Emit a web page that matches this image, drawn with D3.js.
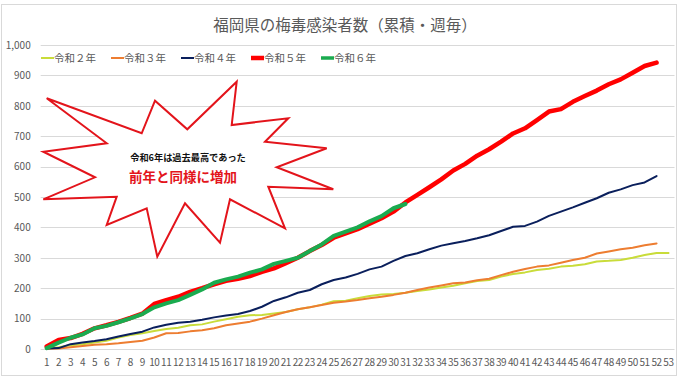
<!DOCTYPE html>
<html><head><meta charset="utf-8">
<script src="https://cdn.jsdelivr.net/npm/d3@7"></script>
<style>
html,body{margin:0;padding:0;background:#fff;}
text{font-family:"Noto Sans CJK JP","Noto Sans",sans-serif;}
</style>
</head><body>
<svg id="chart" width="680" height="382"></svg>
<script>
const title = "福岡県の梅毒感染者数（累積・週毎）";
const weeks = ["1","2","3","4","5","6","7","8","9","10","11","12","13","14","15","16","17","18","19","20","21","22","23","24","25","26","27","28","29","30","31","32","33","34","35","36","37","38","39","40","41","42","43","44","45","46","47","48","49","50","51","52","53"];
const yTicks = [0,100,200,300,400,500,600,700,800,900,1000];
const seriesNames = ["令和２年","令和３年","令和４年","令和５年","令和６年"];
const r2 = [1,6,12,16,21,27,38,46,52,59,66,70,78,81,90,98,106,111,112,117,122,131,137,146,157,159,167,174,179,181,185,191,196,202,208,216,224,227,238,247,252,260,264,271,274,279,288,290,293,300,309,316,316];
const r3 = [1,2,6,10,14,16,19,23,27,38,52,53,58,62,68,78,84,90,100,111,122,131,137,145,152,156,161,167,172,178,185,194,202,209,216,219,226,231,243,254,263,271,275,284,293,300,314,321,328,333,341,347];
const r4 = [2,3,16,21,26,32,41,49,57,71,80,86,90,96,104,110,115,125,139,158,170,185,194,213,227,235,247,262,271,290,306,315,328,340,348,355,364,374,388,402,405,419,438,452,466,481,496,514,525,539,548,569];
const r5 = [8,30,36,50,68,78,89,102,116,148,161,172,188,200,213,224,231,240,254,265,282,300,322,342,366,380,394,412,430,452,482,507,532,558,587,609,636,657,682,709,726,753,781,789,813,832,850,871,887,909,931,942];
const r6 = [3,21,37,48,68,76,88,101,115,137,150,161,178,196,218,229,238,251,262,280,290,300,322,344,372,386,400,420,437,463,477];
const note1 = "令和6年は過去最高であった";
const note2 = "前年と同様に増加";

const seriesValues = [r2, r3, r4, r5, r6];
const colors = ["#c9dc3a","#ed7d31","#0a1f5c","#ff0000","#1aab4f"];
const widths = [2, 2, 2, 4.5, 4];

const svg = d3.select("#chart");
svg.append("rect").attr("x",0).attr("y",0).attr("width",680).attr("height",382).attr("fill","#fff");
svg.append("rect").attr("x",1.5).attr("y",4.5).attr("width",675).attr("height",371)
  .attr("fill","none").attr("stroke","#d9d9d9").attr("stroke-width",1);

const x = d3.scaleBand().domain(weeks).range([40.7, 674.5]).padding(0);
const y = d3.scaleLinear().domain([0, 1000]).range([349, 45]);

// gridlines
svg.append("g").selectAll("line").data(yTicks).join("line")
  .attr("x1", 40.7).attr("x2", 674.5)
  .attr("y1", d => Math.round(y(d))+0.5).attr("y2", d => Math.round(y(d))+0.5)
  .attr("stroke", "#d9d9d9").attr("stroke-width", 1);

// y axis
const yAxis = svg.append("g").attr("transform","translate(40.7,0)")
  .call(d3.axisLeft(y).tickValues(yTicks).tickFormat(d3.format(",")).tickSize(0).tickPadding(10));
yAxis.select(".domain").remove();
yAxis.selectAll("text").attr("fill","#595959").style("font-size","10px");

// x axis
const xAxis = svg.append("g").attr("transform","translate(0,349)")
  .call(d3.axisBottom(x).tickSize(0).tickPadding(10));
xAxis.select(".domain").remove();
xAxis.selectAll("text").attr("fill","#595959").style("font-size","10px").style("letter-spacing","-0.4px");

// lines
const line = d3.line().x((d,i) => x(weeks[i]) + x.bandwidth()/2).y(d => y(d));
seriesValues.forEach((vals, k) => {
  svg.append("path").datum(vals).attr("d", line)
    .attr("fill","none").attr("stroke", colors[k]).attr("stroke-width", widths[k])
    .attr("stroke-linejoin","round").attr("stroke-linecap","round");
});

// title
svg.append("text").attr("x", 345).attr("y", 31).attr("text-anchor","middle")
  .attr("fill","#595959").style("font-size","15.5px").text(title);

// legend
const lg = svg.append("g");
seriesNames.forEach((name, k) => {
  const lx = 41 + k*70;
  lg.append("line").attr("x1", lx).attr("x2", lx+13).attr("y1", 58).attr("y2", 58)
    .attr("stroke", colors[k]).attr("stroke-width", k===3 ? 4.5 : (k===4 ? 3.5 : 2));
  lg.append("text").attr("x", lx+13).attr("y", 62).attr("fill","#595959")
    .style("font-size","10.5px").text(name);
});

// starburst annotation
const star = [[46.7,98.3],[141.7,133.3],[155,100.7],[187.3,129.3],[236.7,81.7],[231.7,125],[288.3,118.3],[265,141.7],[326.7,148.3],[276.7,167.3],[333.3,189.3],[268.3,186.7],[285,228.3],[230,199.3],[220,242.7],[185,203.3],[157.3,256.7],[146.7,208.3],[106.7,225],[116.7,196.7],[43.3,199.3],[95,177.3],[43.3,151.7],[106.7,143.3]];
svg.append("polygon").attr("points", star.map(p => p.join(",")).join(" "))
  .attr("fill","#fff").attr("stroke","#e3141b").attr("stroke-width",2).attr("stroke-linejoin","miter");
svg.append("text").attr("x",188).attr("y",160.5).attr("text-anchor","middle")
  .attr("fill","#111").style("font-size","9.2px").style("font-weight","bold").text(note1);
svg.append("text").attr("x",183).attr("y",181.5).attr("text-anchor","middle")
  .attr("fill","#e3141b").style("font-size","13.5px").style("font-weight","bold").text(note2);
</script>
</body></html>
